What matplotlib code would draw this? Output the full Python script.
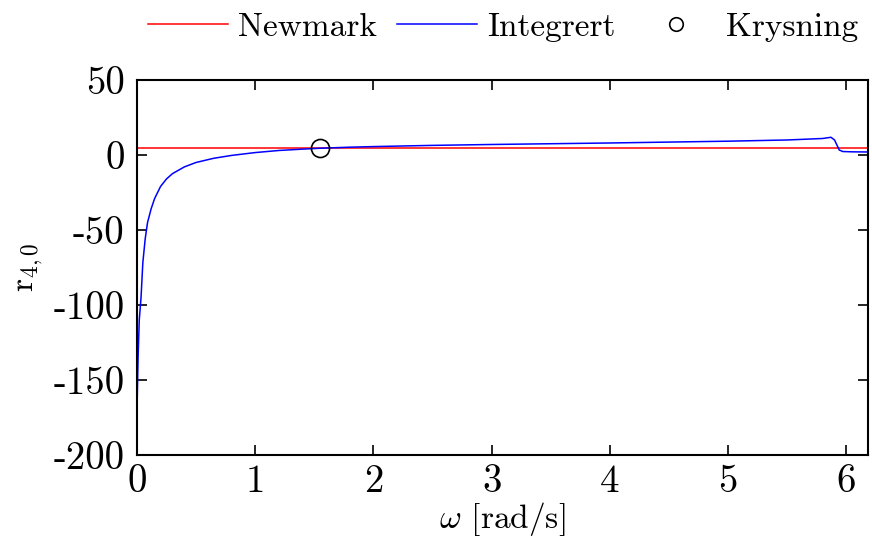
import numpy as np
import matplotlib
matplotlib.use("Agg")
import matplotlib.pyplot as plt

# values
omega = [0, 0.01, 0.02, 0.035, 0.05, 0.07, 0.09, 0.12, 0.15, 0.2, 0.25, 0.3,
         0.4, 0.5, 0.65, 0.8, 1.0, 1.2, 1.4, 1.55, 1.8, 2.0, 2.5, 3.0, 3.5,
         4.0, 4.5, 5.0, 5.5, 5.8, 5.87, 5.9, 5.94, 5.97, 6.05, 6.18]
r_int = [-173, -135, -110, -95, -72, -56, -45, -36, -29, -21, -16, -12.5,
         -8, -5, -2.2, -0.3, 1.6, 3.0, 3.9, 4.5, 5.2, 5.6, 6.4, 7.0, 7.5,
         8.0, 8.6, 9.2, 10.0, 11.0, 11.8, 10.0, 3.3, 2.3, 2.1, 2.0]
r_newmark = 4.5
cross_w, cross_r = 1.55, 4.5

xticks = [0, 1, 2, 3, 4, 5, 6]
yticks = [-200, -150, -100, -50, 0, 50]

plt.rcParams['font.family'] = 'cmr10'
plt.rcParams['mathtext.fontset'] = 'cm'
plt.rcParams['axes.unicode_minus'] = False
plt.rcParams['axes.formatter.use_mathtext'] = False
plt.rcParams['font.size'] = 24

fig = plt.figure(figsize=(8.72, 5.37), dpi=100)
ax = fig.add_axes([0.157, 0.153, 0.838, 0.698])

ax.axhline(r_newmark, color='red', lw=1.1, label='Newmark')
ax.plot(omega, r_int, color='blue', lw=1.1, label='Integrert')
ax.plot([cross_w], [cross_r], 'o', mfc='none', mec='black', ms=13, mew=1.2,
        label='Krysning')

ax.set_xlim(0, 6.18)
ax.set_ylim(-200, 50)
ax.set_xticks(xticks)
ax.set_yticks(yticks)
ax.set_xticklabels([str(t) for t in xticks])
ax.set_yticklabels([str(t) for t in yticks])
ax.tick_params(direction='in', length=7, width=1.2, top=True, right=True,
               labelsize=28)
ax.tick_params(axis='x', pad=7)
ax.tick_params(axis='y', pad=9)
for s in ax.spines.values():
    s.set_linewidth(1.5)

ax.set_xlabel(r'$\omega$ [rad/s]', labelpad=0)
ax.set_ylabel(r'$\mathrm{r}_{4,0}$', labelpad=6)

fig.legend(loc='center', bbox_to_anchor=(0.577, 0.95), ncol=3, frameon=False,
           handlelength=2.4, handletextpad=0.3, columnspacing=0.6,
           borderaxespad=0, markerscale=0.75)

fig.savefig('out.png', dpi=100)
